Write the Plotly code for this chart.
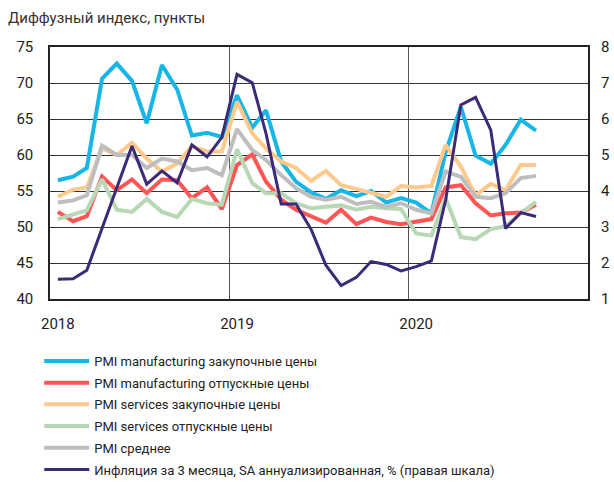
import plotly.graph_objects as go

months = [
    "2018-01-01", "2018-02-01", "2018-03-01", "2018-04-01", "2018-05-01", "2018-06-01",
    "2018-07-01", "2018-08-01", "2018-09-01", "2018-10-01", "2018-11-01", "2018-12-01",
    "2019-01-01", "2019-02-01", "2019-03-01", "2019-04-01", "2019-05-01", "2019-06-01",
    "2019-07-01", "2019-08-01", "2019-09-01", "2019-10-01", "2019-11-01", "2019-12-01",
    "2020-01-01", "2020-02-01", "2020-03-01", "2020-04-01", "2020-05-01", "2020-06-01",
    "2020-07-01", "2020-08-01", "2020-09-01",
]

pmi_manuf_input = [56.5, 57.0, 58.2, 70.6, 72.7, 70.3, 64.4, 72.5, 69.1, 62.7, 63.1, 62.5,
                   68.3, 63.8, 66.2, 59.1, 56.3, 54.8, 53.9, 55.1, 54.3, 55.0, 53.4, 54.0,
                   53.4, 51.9, 60.4, 66.7, 59.9, 58.8, 61.4, 64.9, 63.4]
pmi_manuf_output = [52.1, 50.8, 51.5, 57.0, 55.1, 56.6, 54.7, 56.6, 56.5, 54.0, 55.5, 52.5,
                    58.6, 60.1, 56.3, 53.8, 52.4, 51.5, 50.6, 52.4, 50.4, 51.3, 50.7, 50.4,
                    50.8, 51.1, 55.5, 55.8, 53.3, 51.6, 51.9, 52.0, 53.1]
pmi_serv_input = [54.2, 55.2, 55.5, 60.9, 60.0, 61.7, 59.5, 57.7, 58.8, 61.2, 60.5, 60.5,
                  67.4, 63.0, 60.9, 59.1, 58.2, 56.4, 57.8, 55.8, 55.3, 54.8, 54.2, 55.7,
                  55.5, 55.7, 61.4, 58.4, 54.4, 56.0, 55.1, 58.6, 58.6]
pmi_serv_output = [51.1, 51.7, 52.3, 56.6, 52.4, 52.1, 53.9, 52.1, 51.4, 53.9, 53.3, 53.1,
                   60.8, 56.1, 54.7, 54.7, 53.3, 52.6, 52.8, 53.0, 52.4, 52.8, 52.6, 52.5,
                   49.1, 48.8, 54.0, 48.6, 48.3, 49.7, 50.1, 51.9, 53.5]
pmi_avg = [53.4, 53.7, 54.4, 61.3, 60.0, 60.0, 58.2, 59.5, 59.1, 57.9, 58.2, 57.2,
           63.6, 60.7, 59.3, 57.2, 55.4, 54.2, 53.8, 54.2, 53.2, 53.5, 52.8, 53.3,
           52.4, 51.9, 57.7, 57.0, 54.2, 54.0, 54.7, 56.8, 57.1]
inflation_3m_saar = [1.55, 1.56, 1.80, 2.95, 4.10, 5.25, 4.19, 4.56, 4.23, 5.28, 4.95, 5.49,
                     7.24, 7.01, 5.60, 3.64, 3.64, 2.93, 1.94, 1.37, 1.60, 2.04, 1.96, 1.78,
                     1.90, 2.06, 3.75, 6.39, 6.60, 5.69, 2.96, 3.40, 3.29]

year_ticks = ["2018-01-01", "2019-01-01", "2020-01-01"]
year_labels = ["2018", "2019", "2020"]
year_bounds = ["2018-12-16", "2019-12-16"]

series = [
    ("PMI manufacturing закупочные цены", pmi_manuf_input, "#16B6E6", 4, "y"),
    ("PMI manufacturing отпускные цены", pmi_manuf_output, "#FF5555", 4, "y"),
    ("PMI services закупочные цены", pmi_serv_input, "#FFC98C", 4, "y"),
    ("PMI services отпускные цены", pmi_serv_output, "#B8D8B5", 4, "y"),
    ("PMI среднее", pmi_avg, "#BEBEBE", 4, "y"),
    ("Инфляция за 3 месяца, SA аннуализированная, % (правая шкала)", inflation_3m_saar, "#3B2A78", 3, "y2"),
]

fig = go.Figure()
for k, (name, vals, color, w, ax) in enumerate(series):
    fig.add_trace(go.Scatter(x=months, y=vals, name=name, mode="lines",
                             legendgroup=f"g{k}",
                             line=dict(color=color, width=w), yaxis=ax))

font_family = "Roboto, 'Noto Sans', sans-serif"

fig.update_layout(
    width=614, height=485,
    margin=dict(l=50, r=26, t=47, b=186, autoexpand=False),
    plot_bgcolor="white", paper_bgcolor="white",
    font=dict(family=font_family, color="#222", size=13),
    showlegend=True,
    legend=dict(
        orientation="v",
        x=-0.02, y=-(346 - 299) / 252, xanchor="left", yanchor="top",
        font=dict(size=13, color="#222"), tracegroupgap=1.8, itemwidth=45,
        bgcolor="rgba(0,0,0,0)",
    ),
    annotations=[dict(
        text="Диффузный индекс, пункты", xref="paper", yref="paper",
        x=-44 / 538, y=1 + 29 / 252, xanchor="left", yanchor="middle",
        showarrow=False, font=dict(size=15, color="#333"),
    )],
    xaxis=dict(
        type="date", range=["2017-12-16", "2020-12-16"],
        tickmode="array", tickvals=year_ticks, ticktext=year_labels,
        showgrid=False, ticks="", ticklabelstandoff=10,
        tickfont=dict(size=15, color="#222"),
        showline=True, linecolor="#222", linewidth=1.5, mirror=True,
        minor=dict(tickmode="array", tickvals=year_bounds, showgrid=True,
                   gridcolor="#555", gridwidth=1, ticks=""),
        zeroline=False,
    ),
    yaxis=dict(
        range=[40, 75], tickmode="linear", tick0=40, dtick=5,
        showgrid=True, gridcolor="#333", gridwidth=1,
        tickfont=dict(size=15, color="#222"), ticks="", ticklabelstandoff=12,
        showline=True, linecolor="#222", linewidth=1.5, mirror=True,
        zeroline=False,
    ),
    yaxis2=dict(
        range=[1, 8], tickmode="linear", tick0=1, dtick=1,
        overlaying="y", side="right", showgrid=False,
        tickfont=dict(size=15, color="#222"), ticks="", ticklabelstandoff=12,
        zeroline=False,
    ),
)

fig.write_html("out.html", config={"displayModeBar": False},
               post_script="document.body.style.margin='0px';")
